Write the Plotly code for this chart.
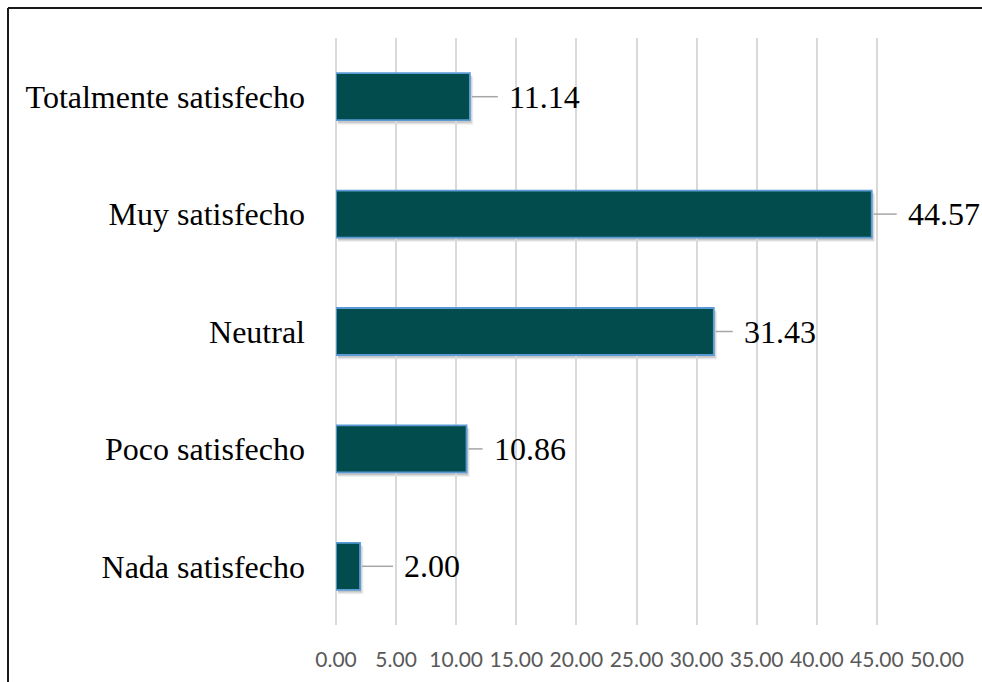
import plotly.graph_objects as go

# Satisfaction levels (top to bottom as displayed) and percentages
categories = ["Totalmente satisfecho", "Muy satisfecho", "Neutral",
              "Poco satisfecho", "Nada satisfecho"]
values = [11.14, 44.57, 31.43, 10.86, 2.00]
x_ticks = [0, 5, 10, 15, 20, 25, 30, 35, 40, 45, 50]
x_tick_labels = [f"{t:.2f}" for t in x_ticks]

# pixel gap between each bar end and its value label
label_gap_px = [37, 34, 28, 25, 42]

W, H = 982, 682
ML, MR, MT, MB = 336, 45, 38, 57
PW, PH = W - ML - MR, H - MT - MB

BAR_FILL = "#034C4D"
BAR_EDGE = "#5B9BD5"
GRID = "#D9D9D9"

order = list(reversed(categories))  # bottom-to-top for the category axis

fig = go.Figure()
fig.add_trace(go.Bar(
    x=values, y=categories, orientation="h", width=0.4,
    marker=dict(color=BAR_FILL, line=dict(color=BAR_EDGE, width=1.8)),
    hoverinfo="skip",
))

shapes = []
annotations = []
for cat, v, gap in zip(categories, values, label_gap_px):
    idx = order.index(cat)
    # soft drop shadow under each bar
    for k, op in enumerate([0.10, 0.08, 0.06]):
        shapes.append(dict(
            type="rect", layer="below", xref="x", yref="y",
            ysizemode="pixel", yanchor=idx,
            x0=0.15, x1=v + 0.12 + 0.08 * k,
            y0=-24 - 2 - k, y1=22 - k,
            line=dict(width=0), fillcolor=f"rgba(0,0,0,{op})",
        ))
    # leader line from bar end to the value label
    shapes.append(dict(
        type="line", xref="x", yref="y", xsizemode="pixel", xanchor=v,
        x0=2, x1=gap - 9, y0=idx, y1=idx,
        line=dict(color="#A6A6A6", width=1.5),
    ))
    annotations.append(dict(
        x=v, y=cat, xref="x", yref="y", xshift=gap, xanchor="left",
        yanchor="middle", showarrow=False, text=f"{v:.2f}",
        font=dict(family="Liberation Serif", size=32, color="#000000"),
    ))

# frame lines along the top and left of the chart
def px_to_paper_x(px):
    return (px - ML) / PW

def px_to_paper_y(py):
    return (H - MB - py) / PH

shapes.append(dict(type="line", xref="paper", yref="paper",
                   x0=px_to_paper_x(8), x1=px_to_paper_x(W + 2),
                   y0=px_to_paper_y(8), y1=px_to_paper_y(8),
                   line=dict(color="#1A1A1A", width=2)))
shapes.append(dict(type="line", xref="paper", yref="paper",
                   x0=px_to_paper_x(8), x1=px_to_paper_x(8),
                   y0=px_to_paper_y(8), y1=px_to_paper_y(H + 2),
                   line=dict(color="#1A1A1A", width=2)))

fig.update_layout(
    width=W, height=H,
    margin=dict(l=ML, r=MR, t=MT, b=MB, pad=0),
    paper_bgcolor="white", plot_bgcolor="white",
    showlegend=False, bargap=0.6,
    shapes=shapes, annotations=annotations,
    xaxis=dict(
        range=[0, 50], tickvals=x_ticks, ticktext=x_tick_labels,
        showgrid=True, gridcolor=GRID, gridwidth=1.5,
        zeroline=True, zerolinecolor=GRID, zerolinewidth=1.5,
        showline=False, ticks="outside", ticklen=16,
        tickcolor="rgba(0,0,0,0)",
        tickfont=dict(family="Lato", size=21, color="#595959"),
        fixedrange=True,
    ),
    yaxis=dict(
        type="category", categoryorder="array", categoryarray=order,
        range=[-0.5, len(order) - 0.5],
        showgrid=False, zeroline=False, showline=False, ticks="",
        ticklabelstandoff=30,
        tickfont=dict(family="Liberation Serif", size=32, color="#000000"),
        fixedrange=True,
    ),
)

fig.write_html("out.html")
